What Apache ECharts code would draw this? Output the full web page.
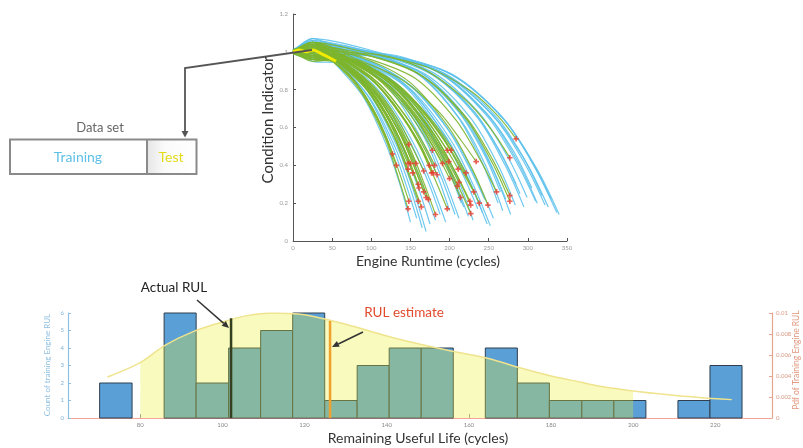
<!DOCTYPE html>
<html><head><meta charset="utf-8">
<script src="https://cdn.jsdelivr.net/npm/echarts@6/dist/echarts.min.js"></script>
<style>html,body{margin:0;padding:0;background:#fff}#c{width:803px;height:448px}</style>
</head><body><div id="c"></div>
<script>
// ---------- Top chart: condition indicator trajectories (x cycles, y value pairs) ----------
const runtimeTicks = [0, 50, 100, 150, 200, 250, 300, 350];
const indicatorTicks = [0, 0.2, 0.4, 0.6, 0.8, 1, 1.2];

const trainingLines = [
[0,1.00, 25,1.05, 53,0.94, 90,0.76, 120,0.50, 138,0.28, 150,0.10],
[0,1.01, 25,0.97, 55,0.94, 95,0.77, 126,0.51, 145,0.29, 158,0.12],
[0,0.99, 25,1.03, 58,0.94, 99,0.75, 132,0.48, 152,0.25, 165,0.07],
[0,1.00, 25,0.95, 60,0.94, 102,0.75, 136,0.47, 156,0.24, 170,0.05],
[0,1.00, 25,1.06, 61,0.94, 105,0.76, 140,0.49, 161,0.27, 175,0.09],
[0,1.01, 25,0.99, 64,0.94, 109,0.76, 146,0.50, 167,0.28, 182,0.11],
[0,1.00, 25,1.02, 66,0.94, 113,0.77, 150,0.52, 173,0.31, 188,0.14],
[0,0.99, 25,0.96, 68,0.94, 117,0.76, 156,0.50, 179,0.28, 195,0.10],
[0,1.00, 25,1.04, 70,0.96, 120,0.82, 160,0.57, 184,0.35, 200,0.16],
[0,1.01, 25,1.00, 72,0.96, 124,0.81, 166,0.56, 190,0.33, 207,0.14],
[0,1.00, 25,1.07, 74,0.96, 127,0.81, 170,0.55, 195,0.31, 212,0.12],
[0,1.00, 25,0.97, 76,0.96, 131,0.82, 174,0.58, 201,0.36, 218,0.18],
[0,0.99, 25,1.03, 78,0.96, 134,0.81, 179,0.55, 206,0.32, 224,0.13],
[0,1.00, 25,0.98, 81,0.96, 138,0.81, 184,0.54, 212,0.31, 230,0.11],
[0,1.01, 25,1.05, 83,0.96, 142,0.82, 189,0.57, 217,0.35, 236,0.17],
[0,1.00, 25,0.96, 85,0.96, 145,0.82, 194,0.56, 223,0.34, 242,0.15],
[0,1.00, 25,1.02, 87,0.96, 149,0.80, 198,0.53, 228,0.29, 248,0.09],
[0,1.01, 25,1.04, 88,0.96, 151,0.80, 202,0.53, 232,0.28, 252,0.08],
[0,1.00, 25,0.99, 90,0.96, 154,0.81, 205,0.55, 236,0.31, 256,0.12],
[0,1.00, 25,1.06, 92,0.99, 157,0.89, 210,0.66, 241,0.42, 262,0.20],
[0,1.01, 25,0.97, 94,0.98, 161,0.88, 214,0.64, 247,0.39, 268,0.16],
[0,1.00, 25,1.03, 95,0.99, 163,0.89, 218,0.67, 250,0.43, 272,0.22],
[0,1.00, 25,1.01, 97,0.98, 167,0.88, 222,0.63, 256,0.37, 278,0.14],
[0,1.01, 25,1.05, 99,0.99, 170,0.88, 227,0.65, 261,0.41, 284,0.19],
[0,1.00, 25,0.98, 102,0.99, 174,0.89, 232,0.68, 267,0.45, 290,0.25],
[0,1.00, 25,1.04, 103,0.99, 177,0.88, 236,0.65, 271,0.40, 295,0.18],
[0,1.00, 25,0.96, 105,0.99, 179,0.89, 239,0.67, 275,0.44, 299,0.23],
[0,1.01, 25,1.06, 107,0.99, 183,0.90, 244,0.69, 281,0.48, 305,0.28],
[0,1.00, 25,1.02, 109,0.99, 186,0.89, 248,0.66, 285,0.42, 310,0.21],
[0,1.00, 25,1.00, 109,0.99, 187,0.89, 250,0.66, 287,0.42, 312,0.20],
[0,1.01, 25,1.05, 111,0.99, 191,0.89, 254,0.67, 293,0.45, 318,0.24],
[0,1.00, 25,0.98, 113,0.99, 193,0.88, 258,0.65, 296,0.41, 322,0.19],
[0,1.00, 25,1.03, 114,0.99, 196,0.88, 261,0.65, 300,0.40, 326,0.18],
[0,1.00, 25,1.07, 116,0.99, 198,0.89, 264,0.67, 304,0.43, 330,0.22],
[0,1.01, 25,0.99, 118,0.98, 202,0.88, 270,0.64, 310,0.38, 337,0.15],
[0,1.00, 25,1.04, 119,0.98, 204,0.88, 272,0.63, 313,0.37, 340,0.14],
[0,1.00, 25,1.02, 100,0.99, 171,0.90, 228,0.70, 262,0.49, 285,0.30],
[0,1.00, 25,0.97, 93,0.99, 159,0.89, 212,0.68, 244,0.46, 265,0.26],
[0,1.00, 25,1.05, 86,0.97, 147,0.83, 196,0.60, 225,0.39, 245,0.22],
[0,1.00, 25,1.00, 75,0.97, 129,0.83, 172,0.59, 198,0.38, 215,0.20]
];

const validationLines = [
[0,1.00, 25,1.02, 44,0.97, 76,0.86, 102,0.70, 117,0.57, 127,0.46],
[0,1.01, 25,0.97, 46,0.96, 79,0.84, 106,0.66, 121,0.52, 132,0.40],
[0,0.99, 25,1.00, 51,0.95, 88,0.78, 118,0.54, 135,0.33, 147,0.17],
[0,1.00, 25,1.03, 51,0.96, 88,0.84, 118,0.67, 135,0.52, 147,0.41],
[0,1.01, 25,0.96, 51,0.96, 88,0.84, 118,0.65, 135,0.50, 147,0.38],
[0,1.00, 25,1.04, 52,0.97, 89,0.87, 118,0.73, 136,0.61, 148,0.51],
[0,0.99, 25,0.98, 52,0.95, 89,0.79, 118,0.56, 136,0.36, 148,0.21],
[0,1.00, 25,1.01, 53,0.96, 90,0.84, 120,0.67, 138,0.52, 150,0.41],
[0,1.01, 25,0.95, 54,0.96, 92,0.83, 122,0.64, 141,0.49, 153,0.36],
[0,0.99, 25,1.03, 55,0.96, 94,0.84, 126,0.67, 144,0.52, 157,0.41],
[0,1.00, 25,0.99, 56,0.95, 96,0.81, 128,0.61, 147,0.44, 160,0.30],
[0,1.00, 25,1.05, 56,0.95, 96,0.79, 128,0.56, 147,0.36, 160,0.21],
[0,1.01, 25,0.97, 56,0.95, 97,0.81, 129,0.60, 148,0.42, 161,0.28],
[0,0.99, 25,1.02, 57,0.95, 98,0.78, 131,0.54, 150,0.34, 164,0.18],
[0,1.00, 25,1.00, 58,0.96, 100,0.83, 133,0.65, 153,0.49, 167,0.37],
[0,1.00, 25,0.96, 58,0.95, 100,0.80, 134,0.59, 154,0.40, 167,0.26],
[0,1.01, 25,1.04, 60,0.95, 102,0.80, 136,0.57, 156,0.38, 170,0.23],
[0,1.00, 25,0.98, 61,0.95, 104,0.79, 138,0.56, 159,0.37, 173,0.22],
[0,0.99, 25,1.03, 61,0.96, 104,0.84, 139,0.66, 160,0.52, 174,0.40],
[0,1.00, 25,0.97, 62,0.96, 106,0.83, 142,0.64, 163,0.49, 177,0.36],
[0,1.01, 25,1.01, 62,0.97, 107,0.86, 142,0.71, 164,0.58, 178,0.48],
[0,1.00, 25,1.05, 63,0.96, 107,0.83, 143,0.64, 165,0.49, 179,0.36],
[0,0.99, 25,0.99, 63,0.96, 108,0.84, 144,0.66, 166,0.52, 181,0.40],
[0,1.00, 25,0.96, 64,0.94, 109,0.77, 146,0.52, 167,0.31, 182,0.14],
[0,1.00, 25,1.02, 64,0.96, 110,0.83, 147,0.64, 169,0.48, 184,0.35],
[0,1.01, 25,1.04, 67,0.96, 115,0.84, 153,0.67, 176,0.52, 191,0.41],
[0,1.00, 25,0.98, 69,0.95, 118,0.78, 158,0.54, 181,0.33, 197,0.17],
[0,0.99, 25,1.00, 69,0.97, 118,0.86, 158,0.71, 181,0.58, 197,0.48],
[0,1.00, 25,1.03, 70,0.96, 119,0.85, 159,0.68, 183,0.53, 199,0.42],
[0,1.00, 25,0.97, 70,0.96, 120,0.82, 160,0.63, 184,0.46, 200,0.33],
[0,1.00, 25,1.05, 71,0.97, 121,0.86, 162,0.71, 186,0.58, 202,0.48],
[0,1.01, 25,0.99, 74,0.95, 126,0.81, 168,0.60, 193,0.43, 210,0.29],
[0,1.00, 25,1.01, 74,0.96, 127,0.84, 169,0.65, 194,0.50, 211,0.38],
[0,0.99, 25,0.96, 74,0.96, 127,0.82, 170,0.61, 195,0.44, 212,0.31],
[0,1.00, 25,1.04, 75,0.95, 128,0.80, 171,0.57, 197,0.38, 214,0.23],
[0,1.00, 25,1.02, 77,0.96, 133,0.83, 177,0.64, 203,0.49, 221,0.36],
[0,1.00, 25,0.98, 79,0.95, 136,0.79, 181,0.56, 208,0.36, 226,0.21],
[0,1.01, 25,1.03, 79,0.95, 136,0.79, 182,0.55, 209,0.35, 227,0.19],
[0,0.99, 25,0.97, 79,0.94, 136,0.77, 182,0.52, 209,0.31, 227,0.145],
[0,1.00, 25,1.00, 81,0.95, 138,0.80, 184,0.59, 212,0.40, 231,0.26],
[0,1.00, 25,1.05, 82,0.96, 140,0.85, 187,0.68, 215,0.53, 234,0.42],
[0,1.00, 25,0.99, 83,0.95, 143,0.79, 190,0.55, 219,0.36, 238,0.20],
[0,1.01, 25,1.02, 87,0.97, 149,0.84, 199,0.60, 229,0.38, 249,0.19],
[0,1.00, 25,1.04, 91,0.97, 156,0.86, 208,0.64, 239,0.43, 260,0.26],
[0,1.00, 25,0.98, 97,0.99, 166,0.91, 222,0.74, 255,0.58, 277,0.44],
[0,1.00, 25,1.03, 97,0.98, 166,0.87, 222,0.65, 255,0.43, 277,0.24],
[0,1.01, 25,1.01, 97,0.98, 166,0.87, 222,0.64, 255,0.41, 277,0.21],
[0,1.00, 25,1.05, 100,0.99, 171,0.92, 228,0.79, 262,0.66, 285,0.54]
];

const testLine = [0,1.00, 8,1.01, 17,1.00, 26,1.01, 36,0.99, 46,0.97, 55,0.95];

// ---------- Bottom chart: RUL histogram + pdf ----------
const binEdges = [70.1, 78.0, 85.8, 93.6, 101.5, 109.3, 117.1, 124.9, 132.8, 140.6, 148.4, 156.2, 164.0, 171.8, 179.6, 187.5, 195.3, 203.1, 210.9, 218.7, 226.5];
const binCounts = [2, 0, 6, 2, 4, 5, 6, 1, 3, 4, 4, 0, 4, 2, 1, 1, 1, 0, 1, 3];
const rulTicks = [80, 100, 120, 140, 160, 180, 200, 220];
const pdfX = [72, 80, 86, 93, 100, 106, 112, 120, 130, 143, 156, 165, 172, 180, 187, 192, 200, 208, 216, 224];
const pdfY = [0.0039, 0.00528, 0.00692, 0.00825, 0.00915, 0.00975, 0.0100, 0.00983, 0.00892, 0.0075, 0.00635, 0.00565, 0.00483, 0.0040, 0.00343, 0.00302, 0.00257, 0.00223, 0.00195, 0.00175];
const pdfFillRange = [80, 200];
const actualRUL = 102.1, actualTop = 5.7;
const estimateRUL = 126.2, estimateTop = 5.54;

const FONT = 'Lato, "Open Sans", sans-serif';
const toPairs = a => { const r = []; for (let i = 0; i < a.length; i += 2) r.push([a[i], a[i + 1]]); return r; };

const series = [];
trainingLines.forEach(l => series.push({
  type: 'line', xAxisIndex: 0, yAxisIndex: 0, data: toPairs(l), showSymbol: false, smooth: 0.3,
  silent: true, z: 2, lineStyle: { color: '#5fc2ec', width: 1.2, opacity: 0.9 }
}));
validationLines.forEach(l => series.push({
  type: 'line', xAxisIndex: 0, yAxisIndex: 0, data: toPairs(l), showSymbol: false, smooth: 0.3,
  silent: true, z: 3, lineStyle: { color: '#7db52e', width: 1.2, opacity: 0.9 }
}));
series.push({
  type: 'scatter', xAxisIndex: 0, yAxisIndex: 0, z: 5, silent: true,
  data: validationLines.map(l => [l[l.length - 2], l[l.length - 1]]),
  symbol: 'path://M3.5,0H6.5V3.5H10V6.5H6.5V10H3.5V6.5H0V3.5H3.5Z', symbolSize: 5.5,
  itemStyle: { color: '#e8392e' }
});
series.push({
  type: 'line', xAxisIndex: 0, yAxisIndex: 0, data: toPairs(testLine), showSymbol: false, smooth: 0.3,
  silent: true, z: 6, lineStyle: { color: '#f2ea00', width: 3 }
});

// histogram bars
const barData = [];
binCounts.forEach((c, i) => { if (c > 0) barData.push([binEdges[i], binEdges[i + 1], c]); });
series.push({
  type: 'custom', xAxisIndex: 1, yAxisIndex: 1, z: 2, silent: true,
  encode: { x: [0, 1], y: 2 }, data: barData,
  renderItem: (params, api) => {
    const p0 = api.coord([api.value(0), api.value(2)]);
    const p1 = api.coord([api.value(1), 0]);
    return { type: 'rect', shape: { x: p0[0], y: p0[1], width: p1[0] - p0[0], height: p1[1] - p0[1] },
      style: { fill: '#5b9fd7', stroke: '#2f3f4f', lineWidth: 1 } };
  }
});
const pdfPairs = pdfX.map((x, i) => [x, pdfY[i]]);
series.push({
  type: 'line', xAxisIndex: 1, yAxisIndex: 2, z: 3, silent: true, showSymbol: false, smooth: 0.3,
  data: pdfPairs.filter(p => p[0] >= pdfFillRange[0] && p[0] <= pdfFillRange[1]),
  lineStyle: { width: 0 }, areaStyle: { color: 'rgb(235,238,40)', opacity: 0.3, origin: 'start' }
});
series.push({
  type: 'line', xAxisIndex: 1, yAxisIndex: 2, z: 4, silent: true, showSymbol: false, smooth: 0.3,
  data: pdfPairs, lineStyle: { color: '#efe38e', width: 1.5 }
});
series.push({
  type: 'line', xAxisIndex: 1, yAxisIndex: 1, z: 5, silent: true, showSymbol: false,
  data: [[actualRUL, 0], [actualRUL, actualTop]], lineStyle: { color: '#34401f', width: 2.5 }
});
series.push({
  type: 'line', xAxisIndex: 1, yAxisIndex: 1, z: 5, silent: true, showSymbol: false,
  data: [[estimateRUL, 0], [estimateRUL, estimateTop]], lineStyle: { color: '#f0a12e', width: 2.5 }
});

function arrow(x1, y1, x2, y2, color, w) {
  const a = Math.atan2(y2 - y1, x2 - x1), L = 7, H = 3.2;
  const bx = x2 - L * Math.cos(a), by = y2 - L * Math.sin(a);
  return [
    { type: 'line', shape: { x1, y1, x2: bx, y2: by }, style: { stroke: color, lineWidth: w }, z: 100 },
    { type: 'polygon', shape: { points: [[x2, y2], [bx - H * Math.sin(a), by + H * Math.cos(a)], [bx + H * Math.sin(a), by - H * Math.cos(a)]] },
      style: { fill: color }, z: 100 }
  ];
}
function txt(x, y, text, size, color, rot) {
  return { type: 'text', x, y, rotation: rot || 0, z: 100,
    style: { text, fontSize: size, fill: color, fontFamily: FONT, align: 'center', verticalAlign: 'middle' } };
}

const graphic = [
  { type: 'polyline', shape: { points: [[312, 50], [185, 68], [185, 131]] }, style: { stroke: '#555', lineWidth: 1.8, fill: null }, z: 100 },
  { type: 'polygon', shape: { points: [[181.5, 131], [188.5, 131], [185, 137.5]] }, style: { fill: '#555' }, z: 100 },
  { type: 'rect', shape: { x: 147, y: 140, width: 49, height: 33 },
    style: { fill: new echarts.graphic.LinearGradient(0, 0, 1, 0, [{ offset: 0, color: 'rgba(0,0,0,0.10)' }, { offset: 0.35, color: 'rgba(0,0,0,0.02)' }, { offset: 1, color: 'rgba(0,0,0,0)' }]) }, z: 99 },
  { type: 'rect', shape: { x: 10, y: 139.5, width: 186.5, height: 34.5 }, style: { stroke: '#8a8a8a', lineWidth: 2, fill: null }, z: 100 },
  { type: 'line', shape: { x1: 147, y1: 139.5, x2: 147, y2: 174 }, style: { stroke: '#8a8a8a', lineWidth: 2 }, z: 100 },
  txt(100, 128, 'Data set', 13, '#666'),
  txt(78, 157, 'Training', 14, '#5ec0e6'),
  txt(171, 157, 'Test', 14, '#e2dc1a'),
  txt(268, 120, 'Condition Indicator', 15, '#333', Math.PI / 2),
  txt(428, 261, 'Engine Runtime (cycles)', 14, '#333'),
  txt(418, 438, 'Remaining Useful Life (cycles)', 14, '#333'),
  txt(174, 288, 'Actual RUL', 13.5, '#222'),
  txt(404, 313, 'RUL estimate', 13.5, '#e24a2c'),
  txt(47, 365, 'Count of training Engine RUL', 8, '#8fc0e3', Math.PI / 2),
  txt(796, 360, 'Pdf of Training Engine RUL', 8.5, '#e29a80', Math.PI / 2),
  ...arrow(197, 300, 229, 328, '#333', 1.5),
  ...arrow(363, 332, 332, 347, '#333', 1.5)
];

const chart = echarts.init(document.getElementById('c'), null, { renderer: 'canvas' });
chart.setOption({
  animation: false,
  backgroundColor: '#fff',
  textStyle: { fontFamily: FONT },
  grid: [
    { left: 293, top: 14, width: 274, height: 227 },
    { left: 68, top: 313, width: 704, height: 105 }
  ],
  xAxis: [
    { type: 'value', gridIndex: 0, min: runtimeTicks[0], max: runtimeTicks[runtimeTicks.length - 1], interval: 50,
      axisLine: { lineStyle: { color: '#555', width: 1 } }, axisTick: { inside: true, length: 3, lineStyle: { color: '#555' } },
      axisLabel: { fontSize: 6, color: '#999', margin: 4 }, splitLine: { show: false } },
    { type: 'value', gridIndex: 1, min: 62.4, max: 233.8,
      axisLine: { lineStyle: { color: '#f4a39c', width: 1.2 } },
      axisTick: { inside: true, length: 4, customValues: rulTicks, lineStyle: { color: '#999' } },
      axisLabel: { fontSize: 6, color: '#888', margin: 4, customValues: rulTicks }, splitLine: { show: false } }
  ],
  yAxis: [
    { type: 'value', gridIndex: 0, min: indicatorTicks[0], max: indicatorTicks[indicatorTicks.length - 1], interval: 0.2,
      axisLine: { show: true, lineStyle: { color: '#555', width: 1 } }, axisTick: { show: true, inside: true, length: 3, lineStyle: { color: '#555' } },
      axisLabel: { fontSize: 6, color: '#999', margin: 5 }, splitLine: { show: false } },
    { type: 'value', gridIndex: 1, min: 0, max: 6, interval: 1, position: 'left',
      axisLine: { show: true, lineStyle: { color: '#8fc0e3', width: 1.2 } }, axisTick: { show: true, inside: true, length: 3, lineStyle: { color: '#8fc0e3' } },
      axisLabel: { fontSize: 6, color: '#7fb3d8', margin: 4 }, splitLine: { show: false } },
    { type: 'value', gridIndex: 1, min: 0, max: 0.01, interval: 0.002, position: 'right',
      axisLine: { show: true, lineStyle: { color: '#e8a58e', width: 1.2 } }, axisTick: { show: true, inside: true, length: 3, lineStyle: { color: '#e8a58e' } },
      axisLabel: { fontSize: 6, color: '#d99a84', margin: 4 }, splitLine: { show: false } }
  ],
  series,
  graphic
});
</script></body></html>
